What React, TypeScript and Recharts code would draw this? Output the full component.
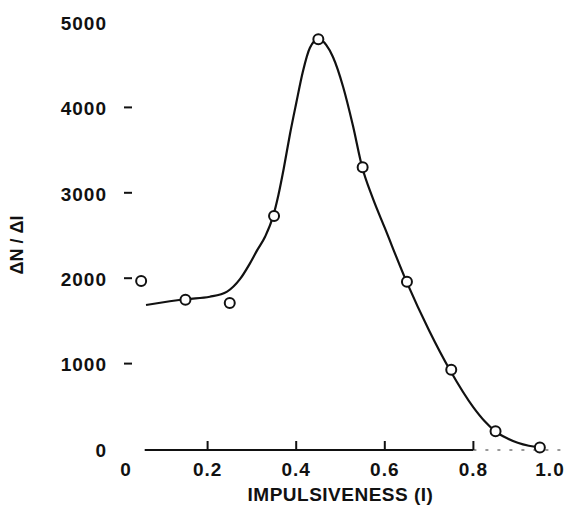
import {
  ComposedChart,
  Line,
  ReferenceLine,
  Scatter,
  XAxis,
  YAxis,
} from "recharts";

// Measured points (open circles)
const pointX = [0.05, 0.15, 0.25, 0.35, 0.45, 0.55, 0.65, 0.75, 0.85, 0.95];
const pointY = [1980, 1760, 1720, 2740, 4810, 3310, 1970, 940, 220, 30];

// Fitted smooth curve
const curveX = [
  0.061, 0.153, 0.205, 0.244, 0.273, 0.295, 0.312, 0.33, 0.348, 0.36, 0.372,
  0.386, 0.4, 0.415, 0.431, 0.451, 0.468, 0.483, 0.506, 0.528, 0.549, 0.572,
  0.6, 0.65, 0.7, 0.747, 0.8, 0.825, 0.849, 0.875, 0.9, 0.925, 0.95,
];
const curveY = [
  1698, 1768, 1795, 1855, 2000, 2180, 2340, 2500, 2740, 2990, 3300, 3700,
  4060, 4430, 4710, 4813, 4740, 4602, 4251, 3800, 3310, 2960, 2600, 1960,
  1400, 937, 500, 340, 222, 140, 85, 50, 32,
];

const xTicks = [0, 0.2, 0.4, 0.6, 0.8, 1.0];
const yTicks = [0, 1000, 2000, 3000, 4000, 5000];

const points = pointX.map((x, i) => ({ x, y: pointY[i] }));
const curve = curveX.map((x, i) => ({ x, y: curveY[i] }));

const FONT = "'Liberation Sans', Arial, Helvetica, sans-serif";
const INK = "#111";

function XTick(props: any) {
  const { x, y, payload } = props;
  const v = payload.value as number;
  const inner = v > 0 && v < 1;
  const nudge = v === 0 ? 7 : v === 1 ? -12 : 0;
  const label = v === 0 ? "0" : v.toFixed(1);
  return (
    <g>
      {inner && (
        <line x1={x} x2={x} y1={y} y2={y - 9} stroke={INK} strokeWidth={2} />
      )}
      <text
        x={x + nudge}
        y={y + 26}
        textAnchor="middle"
        fontFamily={FONT}
        fontWeight="bold"
        fontSize={19}
        letterSpacing={1}
        fill={INK}
      >
        {label}
      </text>
    </g>
  );
}

function YTick(props: any) {
  const { x, y, payload } = props;
  const v = payload.value as number;
  const dash = v > 0 && v < 5000;
  return (
    <g>
      {dash && (
        <line x1={x + 5} x2={x + 13} y1={y - 1} y2={y - 1} stroke={INK} strokeWidth={2} />
      )}
      <text
        x={x - 12}
        y={y}
        dy="0.36em"
        textAnchor="end"
        fontFamily={FONT}
        fontWeight="bold"
        fontSize={19}
        letterSpacing={1}
        fill={INK}
      >
        {v}
      </text>
    </g>
  );
}

function Circle(props: any) {
  const { cx, cy } = props;
  return <circle cx={cx} cy={cy} r={5} fill="#fff" stroke={INK} strokeWidth={2} />;
}

export default function App() {
  return (
    <div style={{ position: "absolute", left: 0, top: 0, background: "#fff" }}>
      <ComposedChart
        width={568}
        height={509}
        margin={{ top: 23, right: 6, bottom: 0, left: 0 }}
      >
        <XAxis
          type="number"
          dataKey="x"
          domain={[0, 1]}
          ticks={xTicks}
          height={59}
          axisLine={false}
          tickLine={false}
          tickSize={0}
          tickMargin={0}
          tick={<XTick />}
          label={{
            content: (p: any) => {
              const vb = p.viewBox;
              return (
                <text
                  x={vb.x + vb.width / 2}
                  y={vb.y + 51}
                  textAnchor="middle"
                  fontFamily={FONT}
                  fontWeight="bold"
                  fontSize={19}
                  letterSpacing={0.5}
                  fill={INK}
                >
                  IMPULSIVENESS (I)
                </text>
              );
            },
          }}
        />
        <YAxis
          type="number"
          domain={[0, 5000]}
          ticks={yTicks}
          width={119}
          axisLine={false}
          tickLine={false}
          tickSize={0}
          tickMargin={0}
          tick={<YTick />}
          label={{
            content: (p: any) => {
              const vb = p.viewBox;
              const cx = vb.x + 17;
              const cy = vb.y + 222;
              return (
                <text
                  x={cx}
                  y={cy}
                  transform={`rotate(-90 ${cx} ${cy})`}
                  textAnchor="middle"
                  dy="0.36em"
                  fontFamily={FONT}
                  fontWeight="bold"
                  fontSize={18}
                  fill={INK}
                >
                  ΔN / ΔI
                </text>
              );
            },
          }}
        />
        <ReferenceLine
          segment={[
            { x: 0.058, y: 0 },
            { x: 0.8, y: 0 },
          ]}
          stroke={INK}
          strokeWidth={2}
        />
        <ReferenceLine
          segment={[
            { x: 0.8, y: 0 },
            { x: 1.0, y: 0 },
          ]}
          stroke="#777"
          strokeWidth={1.5}
          strokeDasharray="3 9"
        />
        <Line
          data={curve}
          dataKey="y"
          type="monotone"
          stroke={INK}
          strokeWidth={2.2}
          dot={false}
          activeDot={false}
          isAnimationActive={false}
        />
        <Scatter
          data={points}
          dataKey="y"
          shape={<Circle />}
          isAnimationActive={false}
        />
      </ComposedChart>
    </div>
  );
}
